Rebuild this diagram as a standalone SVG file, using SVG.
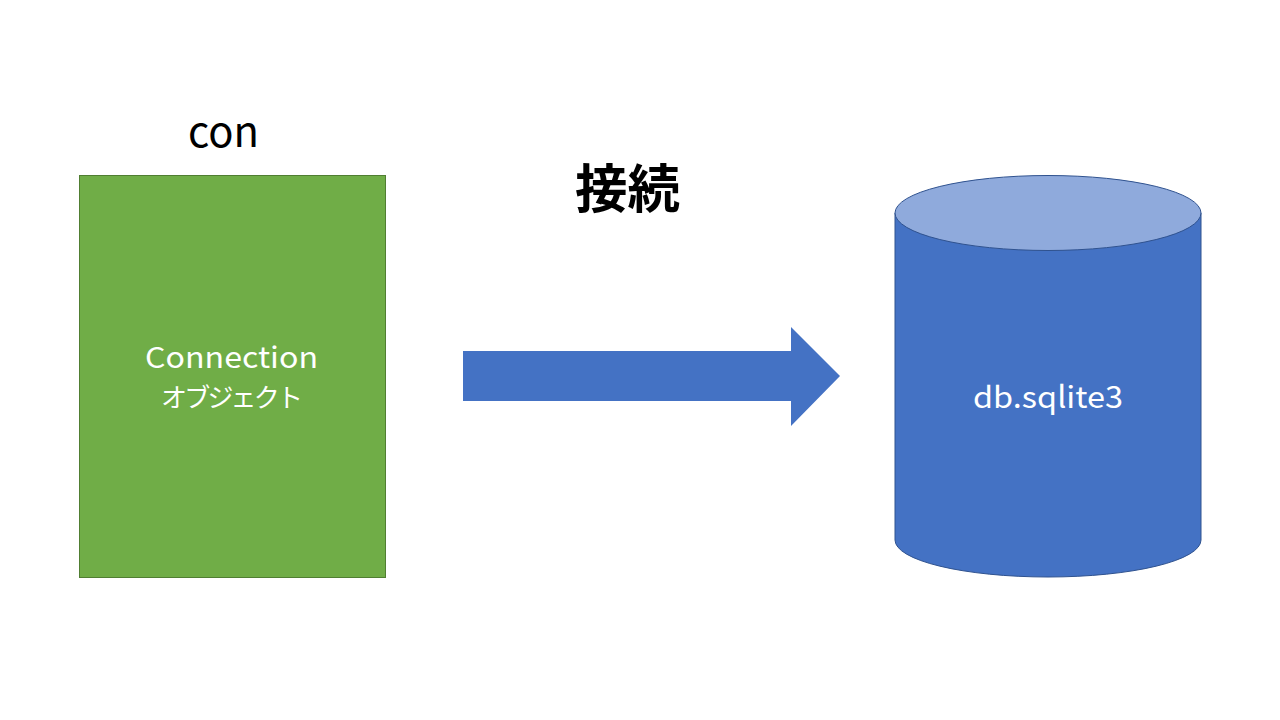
<svg xmlns="http://www.w3.org/2000/svg" width="1280" height="720" viewBox="0 0 1280 720">
<style>
text{font-family:"Noto Sans CJK JP","Noto Sans",sans-serif;text-anchor:middle}
.w{fill:#ffffff}
</style>
<rect width="1280" height="720" fill="#ffffff"/>
<text x="223.5" y="147" font-size="42" fill="#000" textLength="71" lengthAdjust="spacingAndGlyphs">con</text>
<text x="627.5" y="208" font-size="52" font-weight="bold" fill="#000" textLength="105" lengthAdjust="spacingAndGlyphs">接続</text>
<g id="connection">
<rect x="79.5" y="175.5" width="306" height="402" fill="#70AD47" stroke="#507E32" stroke-width="1"/>
<text class="w" x="231.5" y="368" font-size="29" textLength="173" lengthAdjust="spacingAndGlyphs">Connection</text>
<text class="w" x="232" y="407" font-size="26" textLength="142" lengthAdjust="spacing">オブジェクト</text>
</g>
<g id="connectors">
<polygon points="463,351 791,351 791,327 840,376 791,426 791,401 463,401" fill="#4472C4"/>
</g>
<g id="db">
<path d="M895,213 L895,540 A153,37 0 0 0 1201,540 L1201,213 Z" fill="#4472C4" stroke="#2F528F" stroke-width="1"/>
<ellipse cx="1048" cy="213" rx="153" ry="37.5" fill="#8FAADC" stroke="#2F528F" stroke-width="1"/>
<text class="w" x="1048" y="408" font-size="30" textLength="150" lengthAdjust="spacingAndGlyphs">db.sqlite3</text>
</g>
</svg>
